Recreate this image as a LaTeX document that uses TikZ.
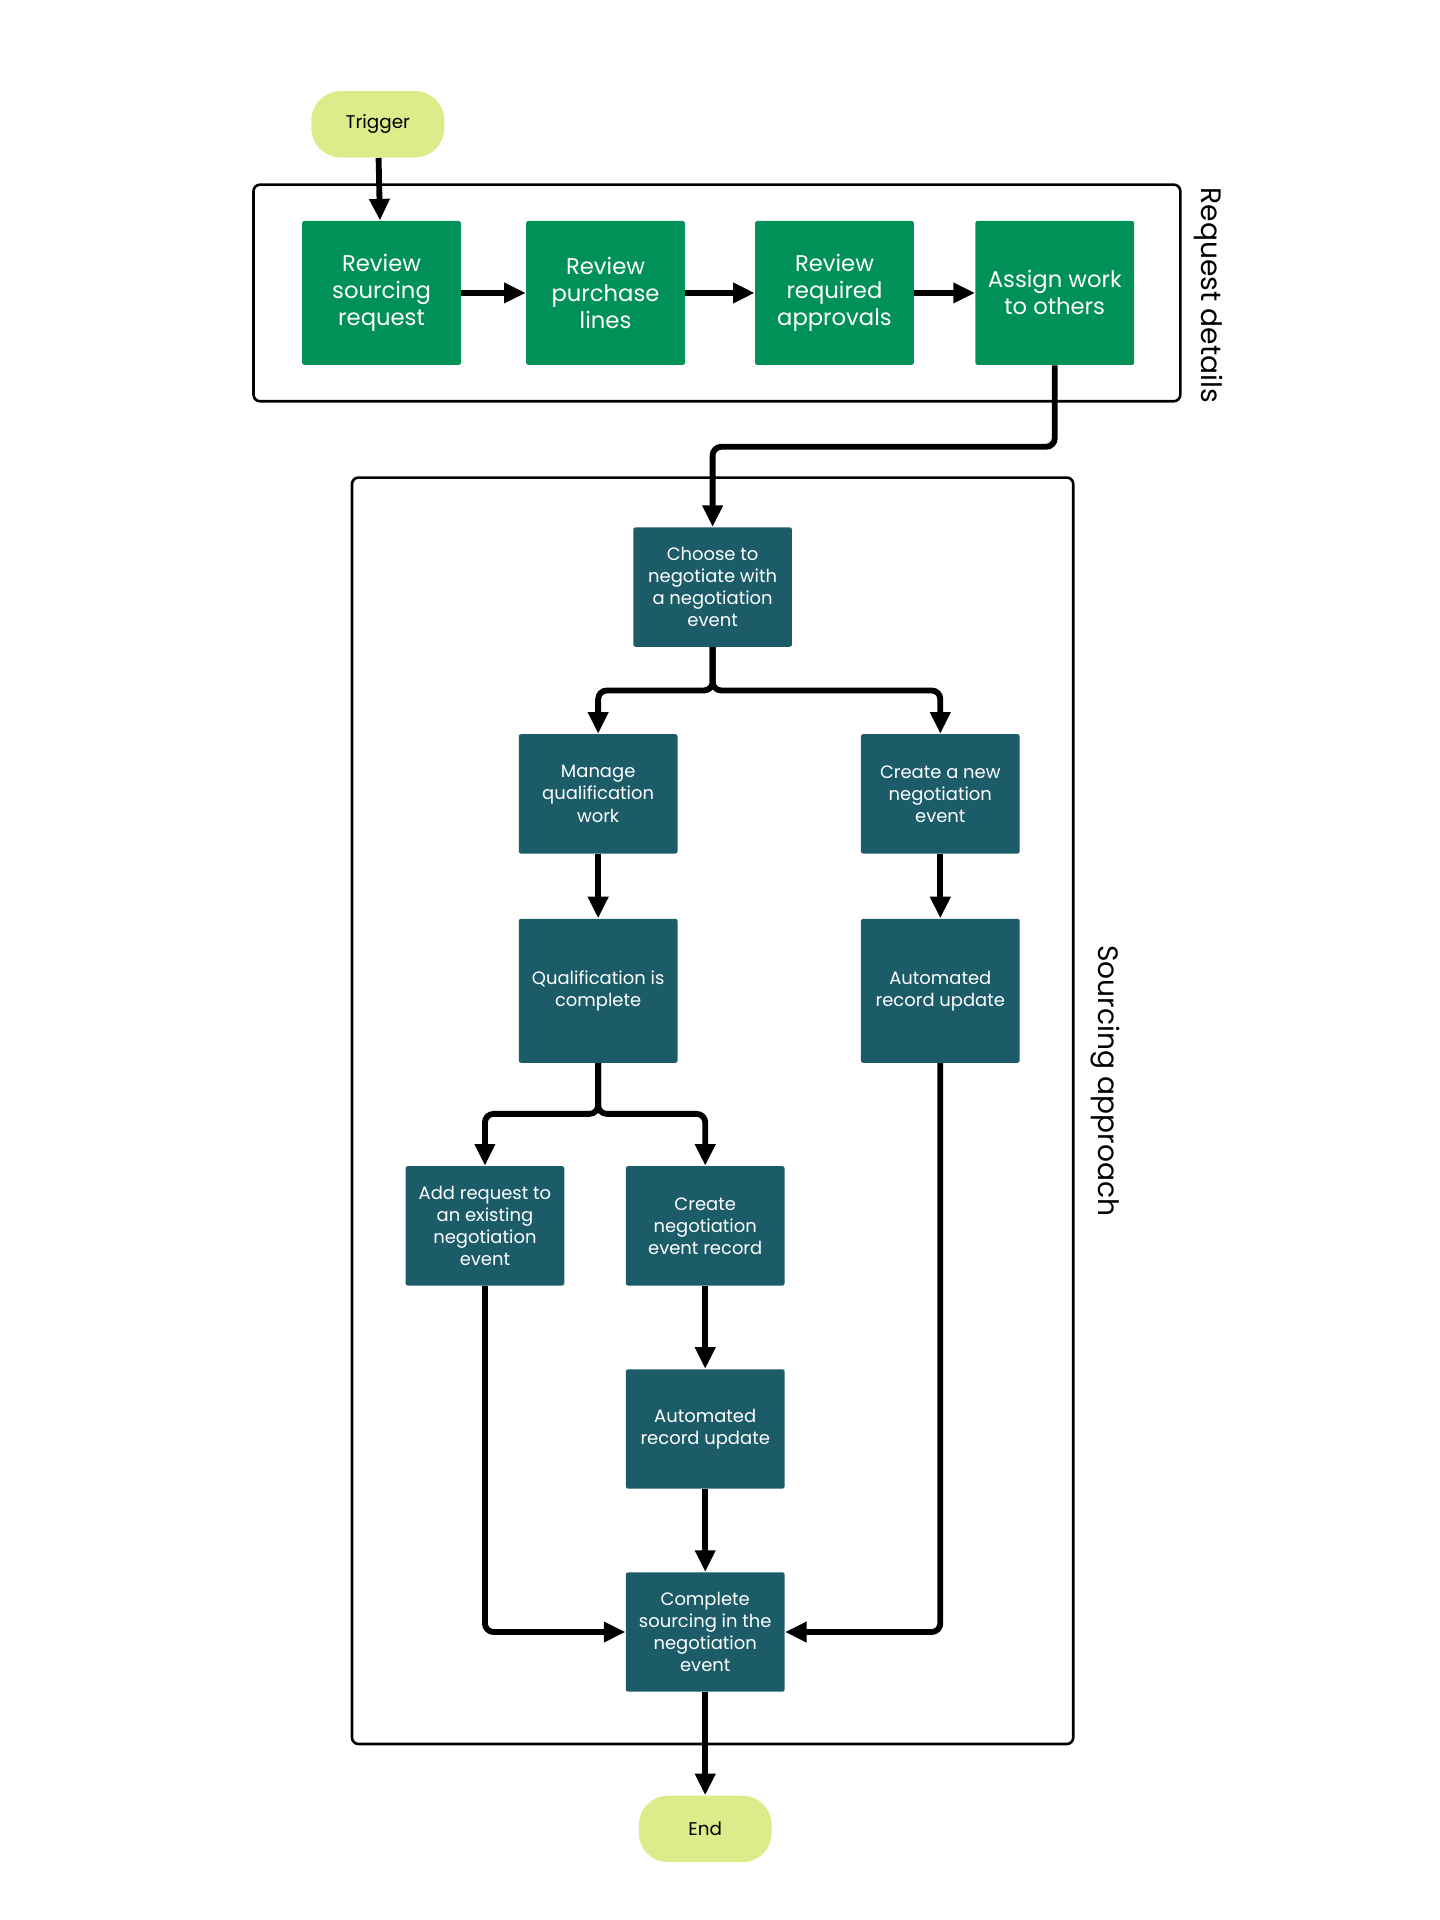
\documentclass[tikz,border=0pt]{standalone}
\usepackage{fontspec}
\setmainfont{Poppins}
\usetikzlibrary{arrows.meta}
\definecolor{termc}{HTML}{DCEC8A}
\definecolor{greenc}{HTML}{009158}
\definecolor{tealc}{HTML}{1B5C68}
\begin{document}
\begin{tikzpicture}[x=0.02cm,y=-0.02cm,
  term/.style={fill=termc,rounded corners=13.5pt,minimum width=2.16cm,minimum height=1.08cm,font=\fontsize{8.5}{10}\selectfont},
  gbox/.style={fill=greenc,text=white,rounded corners=1pt,minimum width=2.58cm,minimum height=2.34cm,align=center,font=\fontsize{10.5}{12.5}\selectfont},
  tbox/.style={fill=tealc,text=white,rounded corners=1pt,minimum width=2.58cm,minimum height=1.94cm,align=center,font=\fontsize{8.3}{10.2}\selectfont},
  conn/.style={line width=2.7pt,rounded corners=4pt,-{Triangle[length=10pt,width=9pt]}},
  frame/.style={draw,line width=1.2pt,rounded corners=3pt}]
\useasboundingbox (0,0) rectangle (1170,1560);
\draw[frame] (206,150) rectangle (959,326);
\draw[frame] (286,388) rectangle (872,1417);
\node[rotate=-90,font=\fontsize{13}{15}\selectfont] (lr) at (982,240) {Request details};
\node[rotate=-90,font=\fontsize{13}{15}\selectfont] (ls) at (898,878) {Sourcing approach};
\node[term] (trig) at (307,101) {Trigger};
\node[gbox] (g1) at (310,238) {Review\\sourcing\\request};
\node[gbox] (g2) at (492,238) {Review\\purchase\\lines};
\node[gbox] (g3) at (678,238) {Review\\required\\approvals};
\node[gbox] (g4) at (857,238) {Assign work\\to others};
\node[tbox] (ch) at (579,477) {Choose to\\negotiate with\\a negotiation\\event};
\node[tbox] (mq) at (486,645) {Manage\\qualification\\work};
\node[tbox] (cn) at (764,645) {Create a new\\negotiation\\event};
\node[tbox,minimum height=2.34cm] (qc) at (486,805) {Qualification is\\complete};
\node[tbox,minimum height=2.34cm] (ar) at (764,805) {Automated\\record update};
\node[tbox] (ad) at (394,996) {Add request to\\an existing\\negotiation\\event};
\node[tbox] (cr) at (573,996) {Create\\negotiation\\event record};
\node[tbox] (am) at (573,1161) {Automated\\record update};
\node[tbox] (cs) at (573,1326) {Complete\\sourcing in the\\negotiation\\event};
\node[term] (end) at (573,1486) {End};
\draw[conn] (trig) -- (g1);
\draw[conn] (g1) -- (g2);
\draw[conn] (g2) -- (g3);
\draw[conn] (g3) -- (g4);
\draw[conn] (g4.south) |- (579,363) -- (ch.north);
\draw[conn] (ch.south) |- (486,561) -- (mq.north);
\draw[conn] (ch.south) |- (764,561) -- (cn.north);
\draw[conn] (mq) -- (qc);
\draw[conn] (cn) -- (ar);
\draw[conn] (qc.south) |- (394,905) -- (ad.north);
\draw[conn] (qc.south) |- (573,905) -- (cr.north);
\draw[conn] (cr) -- (am);
\draw[conn] (am) -- (cs);
\draw[conn] (ad.south) |- (cs.west);
\draw[conn] (ar.south) |- (cs.east);
\draw[conn] (cs) -- (end);
\end{tikzpicture}
\end{document}
